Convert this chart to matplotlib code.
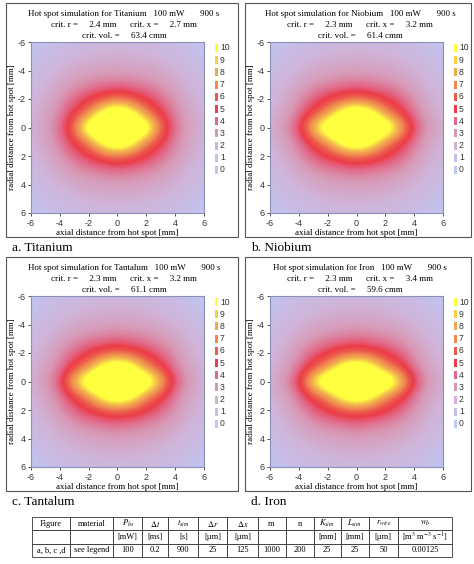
import matplotlib.pyplot as plt
import numpy as np
from matplotlib.colors import LinearSegmentedColormap
from matplotlib.patches import Rectangle

plt.rcParams['mathtext.fontset'] = 'stix'
plt.rcParams['axes.unicode_minus'] = False

W, H = 474, 564

# --- panel data ---
materials = ['Titanium', 'Niobium', 'Tantalum', 'Iron']
panel_tags = ['a', 'b', 'c', 'd']
crit_r = [2.4, 2.3, 2.3, 2.3]
crit_x = [2.7, 3.2, 3.2, 3.4]
crit_vol = [63.4, 61.4, 61.1, 59.6]
power_mw = 100
time_s = 900

# one quadrant of every map, rows r = 0..6 mm, columns x = 0..6 mm
# (map is symmetric in x and r)
field_ti = [[14.0, 13.5, 12.5, 6.6, 3.8, 2.7, 2.1],
            [13.2, 11.0, 7.0, 5.0, 3.4, 2.5, 2.0],
            [6.5, 5.8, 4.8, 3.9, 3.0, 2.3, 1.8],
            [3.8, 3.6, 3.4, 3.0, 2.5, 2.0, 1.6],
            [2.8, 2.7, 2.6, 2.4, 2.1, 1.8, 1.3],
            [2.2, 2.2, 2.1, 1.9, 1.7, 1.4, 1.0],
            [1.7, 1.7, 1.6, 1.5, 1.3, 1.0, 0.5]]
field_nb = [[14.5, 14.0, 13.0, 9.0, 4.5, 3.0, 2.2],
            [13.2, 11.2, 7.4, 5.4, 3.6, 2.6, 2.0],
            [6.4, 5.8, 5.0, 4.1, 3.1, 2.3, 1.8],
            [3.8, 3.6, 3.4, 3.0, 2.5, 2.0, 1.6],
            [2.8, 2.7, 2.6, 2.4, 2.1, 1.8, 1.3],
            [2.2, 2.2, 2.1, 1.9, 1.7, 1.4, 1.0],
            [1.7, 1.7, 1.6, 1.5, 1.3, 1.0, 0.5]]
field_ta = [[14.5, 14.0, 12.9, 8.8, 4.3, 2.9, 2.2],
            [13.0, 11.1, 7.3, 5.3, 3.5, 2.6, 2.0],
            [6.3, 5.7, 4.9, 4.0, 3.1, 2.3, 1.8],
            [3.8, 3.6, 3.4, 3.0, 2.5, 2.0, 1.6],
            [2.8, 2.7, 2.6, 2.4, 2.1, 1.8, 1.3],
            [2.2, 2.2, 2.1, 1.9, 1.7, 1.4, 1.0],
            [1.7, 1.7, 1.6, 1.5, 1.3, 1.0, 0.5]]
field_fe = [[14.5, 14.2, 13.5, 10.0, 4.8, 3.0, 2.2],
            [12.8, 11.0, 7.4, 5.5, 3.6, 2.6, 2.0],
            [6.2, 5.7, 4.9, 4.1, 3.1, 2.3, 1.8],
            [3.8, 3.6, 3.4, 3.0, 2.5, 2.0, 1.6],
            [2.8, 2.7, 2.6, 2.4, 2.1, 1.8, 1.3],
            [2.2, 2.2, 2.1, 1.9, 1.7, 1.4, 1.0],
            [1.7, 1.7, 1.6, 1.5, 1.3, 1.0, 0.5]]
fields = [field_ti, field_nb, field_ta, field_fe]

# legend levels and their colours
legend_levels = [10, 9, 8, 7, 6, 5, 4, 3, 2, 1, 0]
level_colors = ['#ffff40', '#f8d048', '#f0a850', '#f08850', '#ec5a4c', '#ec3c48',
                '#e26888', '#d898b4', '#d0b4d8', '#c4c0ec', '#bec8f8']

# --- table data ---
table_head = ['Figure', 'material', '$P_{hs}$', r'$\Delta t$', '$t_{sim}$', r'$\Delta r$',
              r'$\Delta x$', 'm', 'n', '$K_{sim}$', '$L_{sim}$', '$r_{wire}$', '$w_b$']
table_units = ['', '', '[mW]', '[ms]', '[s]', '[µm]', '[µm]', '', '', '[mm]', '[mm]',
               '[µm]', r'[m$^3$ m$^{-3}$ s$^{-1}$]']
table_row = ['a, b, c ,d', 'see legend', '100', '0.2', '900', '25', '125', '1000', '200',
             '25', '25', '50', '0.00125']
col_widths = [38, 43, 29, 26, 30, 29, 30, 28, 28, 27, 28, 29, 54]

cmap = LinearSegmentedColormap.from_list('hot_spot', level_colors[::-1])

fig = plt.figure(figsize=(W / 100, H / 100), dpi=100)


def fig_rect(x0, y0, x1, y1):
    # pixel box (top-left origin) -> figure fraction rect
    return [x0 / W, 1 - y1 / H, (x1 - x0) / W, (y1 - y0) / H]


serif = 'Liberation Serif'
sans = 'Liberation Sans'

for i in range(4):
    col, row = i % 2, i // 2
    bx0, bx1 = [6, 245][col], [238, 471][col]
    by0, by1 = [3, 257][row], [237, 491][row]
    px0 = [31, 270][col]
    py0 = [42, 296][row]
    px1, py1 = px0 + 173, py0 + 171

    # panel frame
    fig.add_artist(Rectangle((bx0 / W, 1 - by1 / H), (bx1 - bx0) / W, (by1 - by0) / H,
                             transform=fig.transFigure, fill=False,
                             edgecolor='#555555', linewidth=0.8))

    q = np.array(fields[i])
    half = np.concatenate([q[:, :0:-1], q], axis=1)
    full = np.concatenate([half[:0:-1, :], half], axis=0)

    ax = fig.add_axes(fig_rect(px0, py0, px1, py1))
    ax.imshow(full, cmap=cmap, vmin=0, vmax=10, interpolation='bicubic',
              extent=(-6.5, 6.5, 6.5, -6.5), aspect='auto')
    ax.set_xlim(-6, 6)
    ax.set_ylim(6, -6)
    ax.set_xticks(range(-6, 7, 2))
    ax.set_yticks(range(-6, 7, 2))
    ax.tick_params(length=2.5, width=0.6, pad=1.5, labelsize=6.5, colors='#333333')
    for lab in ax.get_xticklabels() + ax.get_yticklabels():
        lab.set_family(sans)
    for sp in ax.spines.values():
        sp.set_color('#8890b8')
        sp.set_linewidth(0.8)
    ax.set_xlabel('axial distance from hot spot [mm]', family=serif, fontsize=6.5,
                  labelpad=1)
    ax.set_ylabel('radial distance from hot spot [mm]', family=serif, fontsize=6.5,
                  labelpad=1)

    # title lines
    cx = (bx0 + bx1) / 2 + 2
    ty = py0 - 28
    fig.text(cx / W, 1 - ty / H,
             f'Hot spot simulation for {materials[i]}   {power_mw} mW       {time_s} s',
             ha='center', va='center', family=serif, fontsize=6.5)
    fig.text(cx / W, 1 - (ty + 11) / H,
             f'crit. r =     {crit_r[i]} mm      crit. x =     {crit_x[i]} mm',
             ha='center', va='center', family=serif, fontsize=6.5)
    fig.text(cx / W, 1 - (ty + 22) / H, f'crit. vol. =     {crit_vol[i]} cmm',
             ha='center', va='center', family=serif, fontsize=6.5)

    # legend
    for k, (lev, c) in enumerate(zip(legend_levels, level_colors)):
        ly = py0 + 6 + k * 12.2
        fig.add_artist(Rectangle(((px1 + 11) / W, 1 - (ly + 4) / H), 3 / W, 8 / H,
                                 transform=fig.transFigure, color=c, linewidth=0))
        fig.text((px1 + 16) / W, 1 - ly / H, str(lev), ha='left', va='center',
                 family=sans, fontsize=6.2, color='#333333')

    # panel caption
    fig.text((bx0 + 6) / W, 1 - (by1 + 11) / H, f'{panel_tags[i]}. {materials[i]}',
             ha='left', va='center', family=serif, fontsize=9.5)

# --- parameter table ---
tax = fig.add_axes(fig_rect(32, 517, 452, 557))
tax.axis('off')
tab = tax.table(cellText=[table_head, table_units, table_row],
                colWidths=[w / sum(col_widths) for w in col_widths],
                bbox=[0, 0, 1, 1], cellLoc='center')
tab.auto_set_font_size(False)
tab.set_fontsize(6)
for (r, c), cell in tab.get_celld().items():
    cell.set_linewidth(0.6)
    cell.set_edgecolor('#333333')
    cell.PAD = 0.04
    cell.get_text().set_family(serif)
    if r == 2:
        cell._loc = 'left' if c < 2 else 'right'

plt.savefig('out.png', dpi=100)
